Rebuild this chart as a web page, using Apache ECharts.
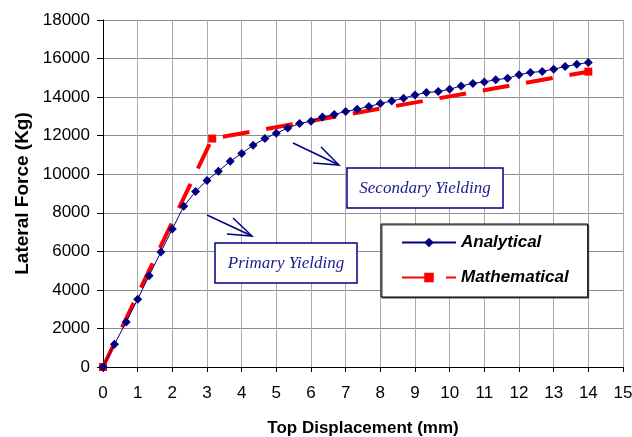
<!DOCTYPE html>
<html>
<head>
<meta charset="utf-8">
<script src="https://cdn.jsdelivr.net/npm/echarts@6/dist/echarts.min.js"></script>
<style>
  html, body { margin: 0; padding: 0; background: #fff; }
  #chart { width: 632px; height: 437px; }
</style>
</head>
<body>
<div id="chart"></div>
<script>
// 读图得到的数据
const analyticalX = [0, 0.33, 0.67, 1, 1.33, 1.67, 2, 2.33, 2.67, 3, 3.33, 3.67, 4, 4.33, 4.67, 5,
  5.33, 5.67, 6, 6.33, 6.67, 7, 7.33, 7.67, 8, 8.33, 8.67, 9, 9.33, 9.67, 10, 10.33, 10.67, 11,
  11.33, 11.67, 12, 12.33, 12.67, 13, 13.33, 13.67, 14];
const analyticalY = [0, 1180, 2340, 3520, 4730, 5970, 7160, 8340, 9100, 9680, 10160, 10670, 11080,
  11500, 11850, 12120, 12400, 12630, 12750, 12970, 13100, 13250, 13370, 13510, 13670, 13800,
  13940, 14110, 14240, 14290, 14410, 14580, 14710, 14790, 14900, 14980, 15160, 15280, 15330,
  15450, 15590, 15700, 15800];
const mathX = [0, 3.15, 14];
const mathY = [0, 11850, 15320];
const xTicks = {min: 0, max: 15, step: 1};
const yTicks = {min: 0, max: 18000, step: 2000};

const pairs = (xs, ys) => xs.map((x, i) => [x, ys[i]]);

const chart = echarts.init(document.getElementById('chart'));
const navy = '#000080';
const sans = 'Liberation Sans, Arial, sans-serif';
const serif = 'Liberation Serif, Times New Roman, serif';

const option = {
  animation: false,
  backgroundColor: '#fff',
  grid: {left: 103, right: 9, top: 20, bottom: 70, outerBoundsMode: 'none'},
  xAxis: {
    type: 'value',
    min: xTicks.min, max: xTicks.max, interval: xTicks.step,
    name: 'Top Displacement (mm)',
    nameLocation: 'middle',
    nameGap: 53,
    nameTextStyle: {fontFamily: sans, fontSize: 17, fontWeight: 'bold', color: '#000'},
    axisLine: {lineStyle: {color: '#000', width: 1}},
    axisTick: {show: true, length: 5, lineStyle: {color: '#000'}},
    axisLabel: {fontFamily: sans, fontSize: 17, color: '#000', margin: 18},
    splitLine: {show: true, lineStyle: {color: '#aaa', width: 1}}
  },
  yAxis: {
    type: 'value',
    min: yTicks.min, max: yTicks.max, interval: yTicks.step,
    name: 'Lateral Force (Kg)',
    nameLocation: 'middle',
    nameGap: 68,
    nameTextStyle: {fontFamily: sans, fontSize: 19, fontWeight: 'bold', color: '#000'},
    axisLine: {show: true, lineStyle: {color: '#000', width: 1}},
    axisTick: {show: true, length: 6, lineStyle: {color: '#000'}},
    axisLabel: {fontFamily: sans, fontSize: 17, color: '#000', margin: 13, formatter: v => String(v)},
    splitLine: {show: true, lineStyle: {color: '#8c8c8c', width: 1}}
  },
  legend: {
    orient: 'vertical',
    left: 381,
    top: 224,
    data: ['Analytical', 'Mathematical'],
    itemWidth: 54,
    itemHeight: 12,
    itemGap: 18,
    padding: [10, 19, 11, 20],
    borderColor: '#000',
    borderWidth: 1,
    backgroundColor: '#fff',
    shadowColor: '#444',
    shadowOffsetX: 1,
    shadowOffsetY: 1,
    shadowBlur: 0,
    textStyle: {fontFamily: sans, fontSize: 17, fontWeight: 'bold', fontStyle: 'italic', color: '#000'}
  },
  series: [
    {
      name: 'Mathematical',
      type: 'line',
      data: pairs(mathX, mathY),
      symbol: 'rect',
      symbolSize: 8,
      itemStyle: {color: '#ff0000'},
      lineStyle: {color: '#ff0000', width: 4, type: [27, 17]},
      z: 2
    },
    {
      name: 'Analytical',
      type: 'line',
      data: pairs(analyticalX, analyticalY),
      symbol: 'diamond',
      symbolSize: 9,
      itemStyle: {color: navy},
      lineStyle: {color: navy, width: 1},
      z: 3
    }
  ],
  graphic: [
    // 箭头
    {type: 'polyline', z: 100, shape: {points: [[207, 215], [252, 236]]}, style: {stroke: navy, lineWidth: 1.5, fill: null}},
    {type: 'polyline', z: 100, shape: {points: [[233, 218], [252, 236], [227, 234]]}, style: {stroke: navy, lineWidth: 1.5, fill: null}},
    {type: 'polyline', z: 100, shape: {points: [[293, 143], [339, 165]]}, style: {stroke: navy, lineWidth: 1.5, fill: null}},
    {type: 'polyline', z: 100, shape: {points: [[321, 147], [339, 165], [313, 163]]}, style: {stroke: navy, lineWidth: 1.5, fill: null}},
    // 文本框
    {type: 'rect', z: 100, shape: {x: 347, y: 168, width: 156, height: 40}, style: {fill: '#fff', stroke: navy, lineWidth: 1.5}},
    {type: 'text', z: 101, style: {text: 'Secondary Yielding', x: 425, y: 189, font: 'italic 17px ' + serif, fill: '#1c1c8c', textAlign: 'center', textVerticalAlign: 'middle'}},
    {type: 'rect', z: 100, shape: {x: 215, y: 243, width: 142, height: 40}, style: {fill: '#fff', stroke: navy, lineWidth: 1.5}},
    {type: 'text', z: 101, style: {text: 'Primary Yielding', x: 286, y: 264, font: 'italic 17px ' + serif, fill: '#1c1c8c', textAlign: 'center', textVerticalAlign: 'middle'}}
  ]
};

option && chart.setOption(option);
</script>
</body>
</html>
